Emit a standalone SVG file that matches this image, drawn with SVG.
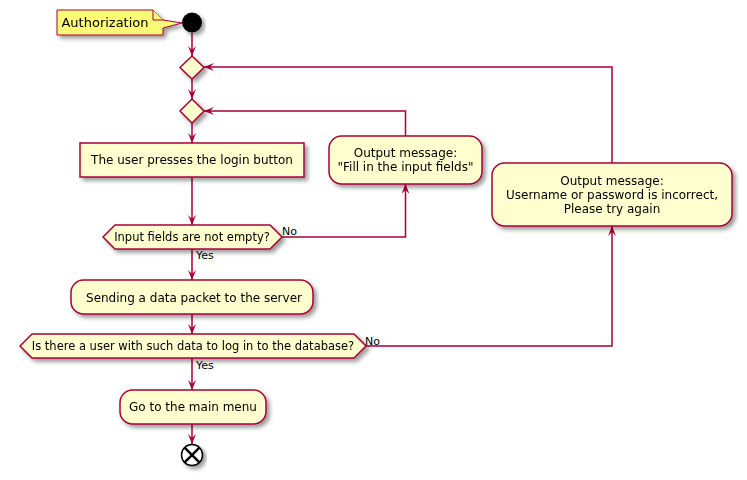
<svg xmlns="http://www.w3.org/2000/svg" width="747" height="480" viewBox="0 0 747 480">
<defs>
<filter id="sh" x="-10%" y="-10%" width="130%" height="150%">
<feGaussianBlur in="SourceAlpha" stdDeviation="2"/>
<feOffset dx="3" dy="3" result="b"/>
<feComponentTransfer><feFuncA type="linear" slope="0.4"/></feComponentTransfer>
<feMerge><feMergeNode/><feMergeNode in="SourceGraphic"/></feMerge>
</filter>
<marker id="ah" markerWidth="10" markerHeight="8" refX="10" refY="4" orient="auto" markerUnits="userSpaceOnUse">
<path d="M0,0 L10,4 L0,8 L4,4 Z" fill="#A80036"/>
</marker>
<style>
.n{fill:#FEFECE;stroke:#A80036;stroke-width:1.5}
.note{fill:#FBFB77;stroke:#A80036;stroke-width:1}
.c{fill:none;stroke:#A80036;stroke-width:1.5;marker-end:url(#ah)}
.t{font-family:"DejaVu Sans","Liberation Sans",sans-serif;font-size:12px;fill:#000;text-anchor:middle}
.d{font-size:11.5px}
.s{font-family:"DejaVu Sans","Liberation Sans",sans-serif;font-size:11px;fill:#000}
</style>
</defs>
<g id="connectors">
<line class="c" x1="192" y1="33" x2="192" y2="56"/>
<line class="c" x1="192" y1="79" x2="192" y2="99"/>
<line class="c" x1="192" y1="123" x2="192" y2="143"/>
<line class="c" x1="192" y1="177" x2="192" y2="225"/>
<line class="c" x1="192" y1="249" x2="192" y2="280"/>
<line class="c" x1="192" y1="314" x2="192" y2="334"/>
<line class="c" x1="192" y1="358" x2="192" y2="390"/>
<line class="c" x1="192" y1="424" x2="192" y2="444"/>
<polyline class="c" points="282,237 405.5,237 405.5,184"/>
<polyline class="c" points="405.5,136 405.5,111 204,111"/>
<polyline class="c" points="366,346 612,346 612,226"/>
<polyline class="c" points="612,163 612,67 204,67"/>
<text class="s" x="282" y="235">No</text>
<text class="s" x="196" y="259">Yes</text>
<text class="s" x="365" y="345">No</text>
<text class="s" x="196" y="369">Yes</text>
</g>
<g id="note-authorization" filter="url(#sh)">
<polygon class="note" points="57,10 57,35 163,35 163,28 182,23 163,20 153,10"/>
<polyline class="note" points="153,10 153,20 163,20" fill="none"/>
<text class="t" x="105" y="27" style="font-size:13px">Authorization</text>
</g>
<g id="start" filter="url(#sh)">
<circle cx="192" cy="22.5" r="10" fill="#000"/>
</g>
<g id="merge1" filter="url(#sh)">
<polygon class="n" points="192,56 204,67.5 192,79 180,67.5"/>
</g>
<g id="merge2" filter="url(#sh)">
<polygon class="n" points="192,99 204,111 192,123 180,111"/>
</g>
<g id="login" filter="url(#sh)">
<rect class="n" x="80" y="143" width="224" height="34"/>
<text class="t" x="192" y="164">The user presses the login button</text>
</g>
<g id="check-empty" filter="url(#sh)">
<polygon class="n" points="103,237 115,225 270,225 282,237 270,249 115,249"/>
<text class="t d" x="192" y="241">Input fields are not empty?</text>
</g>
<g id="fill-msg" filter="url(#sh)">
<rect class="n" x="329" y="136" width="153" height="48" rx="12.5"/>
<text class="t" x="405.5" y="157">Output message:</text>
<text class="t" x="405.5" y="171">"Fill in the input fields"</text>
</g>
<g id="send" filter="url(#sh)">
<rect class="n" x="71" y="280" width="242" height="34" rx="12.5"/>
<text class="t" x="194" y="302">Sending a data packet to the server</text>
</g>
<g id="check-user" filter="url(#sh)">
<polygon class="n" points="20,346 32,334 354,334 366,346 354,358 32,358"/>
<text class="t d" x="193" y="350">Is there a user with such data to log in to the database?</text>
</g>
<g id="wrong-msg" filter="url(#sh)">
<rect class="n" x="492" y="163" width="240" height="63" rx="12.5"/>
<text class="t" x="612" y="185">Output message:</text>
<text class="t" x="612" y="199">Username or password is incorrect,</text>
<text class="t" x="612" y="213">Please try again</text>
</g>
<g id="main-menu" filter="url(#sh)">
<rect class="n" x="120" y="390" width="146" height="34" rx="12.5"/>
<text class="t" x="193" y="411">Go to the main menu</text>
</g>
<g id="end" filter="url(#sh)">
<circle cx="192" cy="455" r="10.5" fill="#fff" stroke="#000" stroke-width="1.5"/>
<line x1="184.6" y1="447.6" x2="199.4" y2="462.4" stroke="#000" stroke-width="2.5"/>
<line x1="199.4" y1="447.6" x2="184.6" y2="462.4" stroke="#000" stroke-width="2.5"/>
</g>
</svg>
